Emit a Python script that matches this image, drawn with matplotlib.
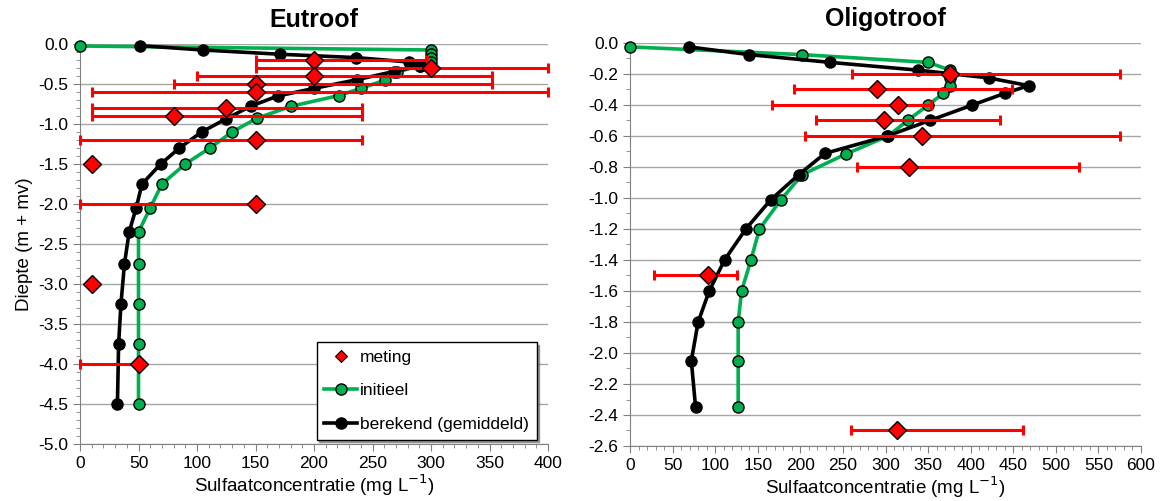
import numpy as np
import matplotlib
matplotlib.use('Agg')
import matplotlib.pyplot as plt
from matplotlib.ticker import MultipleLocator, FormatStrFormatter

plt.rcParams.update({'font.family': ['Liberation Sans', 'DejaVu Sans'], 'font.size': 12})

# ---- Eutroof ----
eu_init_depth = [-0.025, -0.075, -0.125, -0.175, -0.225, -0.27, -0.35, -0.45, -0.555, -0.645,
                 -0.78, -0.93, -1.1, -1.3, -1.5, -1.75, -2.05, -2.35, -2.75, -3.25, -3.75, -4.5]
eu_init_conc = [0, 300, 300, 300, 300, 291, 271, 261, 240, 221,
                180, 151, 130, 111, 90, 70, 60, 50, 50, 50, 50, 50]
eu_calc_depth = [-0.02, -0.075, -0.128, -0.17, -0.225, -0.27, -0.345, -0.445, -0.555, -0.65,
                 -0.777, -0.934, -1.1, -1.3, -1.5, -1.75, -2.05, -2.35, -2.75, -3.25, -3.75, -4.5]
eu_calc_conc = [51, 105, 171, 236, 281, 291, 268, 237, 200, 169,
                146, 125, 104, 85, 69, 53, 48, 42, 38, 35, 33, 32]
eu_meas_depth = [-0.2, -0.3, -0.4, -0.5, -0.6, -0.8, -0.9, -1.2, -1.5, -2.0, -3.0, -4.0]
eu_meas_conc = [200, 300, 200, 150, 150, 125, 80, 150, 10, 150, 10, 50]
eu_meas_min = [150, 150, 100, 80, 10, 10, 10, 0, 10, 0, 10, 0]
eu_meas_max = [297, 400, 352, 352, 400, 241, 241, 241, 10, 150, 10, 50]

# ---- Oligotroof ----
ol_init_depth = [-0.025, -0.075, -0.125, -0.175, -0.225, -0.275, -0.325, -0.4, -0.5, -0.6,
                 -0.715, -0.85, -1.013, -1.2, -1.4, -1.6, -1.8, -2.05, -2.35]
ol_init_conc = [0, 202, 350, 376, 376, 376, 368, 350, 326, 303,
                254, 202, 177, 152, 142, 131, 127, 127, 127]
ol_calc_depth = [-0.025, -0.075, -0.125, -0.175, -0.225, -0.275, -0.325, -0.4, -0.5, -0.6,
                 -0.712, -0.85, -1.013, -1.2, -1.4, -1.6, -1.8, -2.05, -2.35]
ol_calc_conc = [69, 140, 235, 338, 421, 468, 440, 402, 352, 302,
                229, 198, 165, 136, 111, 93, 80, 72, 77]
ol_meas_depth = [-0.2, -0.3, -0.4, -0.5, -0.6, -0.8, -1.5, -2.5]
ol_meas_conc = [376, 290, 315, 298, 343, 328, 92, 313]
ol_meas_min = [261, 192, 167, 218, 206, 266, 28, 259]
ol_meas_max = [575, 448, 353, 435, 575, 527, 126, 462]

GREEN = '#00B050'
RED = '#FF0000'
GRID = '#A6A6A6'

fig = plt.figure(figsize=(11.66, 5.01), dpi=100)
ax1 = fig.add_axes([80 / 1166, 1 - 444 / 501, 468 / 1166, 400 / 501])
ax2 = fig.add_axes([630 / 1166, 1 - 446 / 501, 511 / 1166, 403 / 501])


def draw(ax, idep, iconc, cdep, cconc, mdep, mconc, mmin, mmax):
    mconc = np.array(mconc, float)
    xerr = [mconc - np.array(mmin), np.array(mmax) - mconc]
    ax.plot(iconc, idep, '-o', color=GREEN, lw=2.6, ms=8, mfc=GREEN, mec='black',
            mew=1.0, zorder=3, label='initieel')
    ax.plot(cconc, cdep, '-o', color='black', lw=2.6, ms=8, mfc='black', mec='black',
            zorder=4, label='berekend (gemiddeld)')
    ax.errorbar(mconc, mdep, xerr=xerr, fmt='none', ecolor=RED, elinewidth=2.2,
                capsize=3.5, capthick=2.2, zorder=5)
    ax.plot(mconc, mdep, 'D', ls='none', ms=9, mfc=RED, mec='black', mew=1.0,
            zorder=6, label='meting')
    for s in ['top', 'right']:
        ax.spines[s].set_visible(False)
    for s in ['left', 'bottom']:
        ax.spines[s].set_color('#808080')
    ax.yaxis.grid(True, which='major', color=GRID, lw=1.0)
    ax.set_axisbelow(True)
    ax.tick_params(which='both', direction='out', color='#808080', labelsize=12.5)
    ax.tick_params(which='major', length=5)
    ax.tick_params(which='minor', length=3)
    ax.yaxis.set_major_formatter(FormatStrFormatter('%.1f'))
    ax.set_xlabel('Sulfaatconcentratie (mg L$^{-1}$)', fontsize=13.5, labelpad=1)


draw(ax1, eu_init_depth, eu_init_conc, eu_calc_depth, eu_calc_conc,
     eu_meas_depth, eu_meas_conc, eu_meas_min, eu_meas_max)
ax1.set_xlim(0, 400)
ax1.set_ylim(-5.0, 0.0)
ax1.xaxis.set_major_locator(MultipleLocator(50))
ax1.xaxis.set_minor_locator(MultipleLocator(10))
ax1.yaxis.set_major_locator(MultipleLocator(0.5))
ax1.yaxis.set_minor_locator(MultipleLocator(0.1))
ax1.set_ylabel('Diepte (m + mv)', fontsize=13.5, labelpad=4)
ax1.set_title('Eutroof', fontsize=18, fontweight='bold', pad=12)

draw(ax2, ol_init_depth, ol_init_conc, ol_calc_depth, ol_calc_conc,
     ol_meas_depth, ol_meas_conc, ol_meas_min, ol_meas_max)
ax2.set_xlim(0, 600)
ax2.set_ylim(-2.6, 0.0)
ax2.xaxis.set_major_locator(MultipleLocator(50))
ax2.xaxis.set_minor_locator(MultipleLocator(10))
ax2.yaxis.set_major_locator(MultipleLocator(0.2))
ax2.yaxis.set_minor_locator(MultipleLocator(0.1))
ax2.set_title('Oligotroof', fontsize=18, fontweight='bold', pad=12)

for ax in (ax1, ax2):
    for ln in ax.lines:
        ln.set_clip_on(False)

h, l = ax1.get_legend_handles_labels()
order = [l.index('meting'), l.index('initieel'), l.index('berekend (gemiddeld)')]
h[order[0]] = plt.Line2D([], [], marker='D', ls='none', ms=6, mfc=RED, mec='black', mew=0.8)
leg = ax1.legend([h[i] for i in order], [l[i] for i in order], loc='lower right',
                 bbox_to_anchor=(0.985, 0.0), fontsize=12.5, frameon=True, fancybox=False,
                 shadow=True, edgecolor='black', framealpha=1, labelspacing=1.05,
                 handlelength=1.9, handletextpad=0.15, borderpad=0.45, borderaxespad=0.25)
leg.get_frame().set_linewidth(1.0)
leg.set_zorder(10)

fig.savefig('out.png', dpi=100)
